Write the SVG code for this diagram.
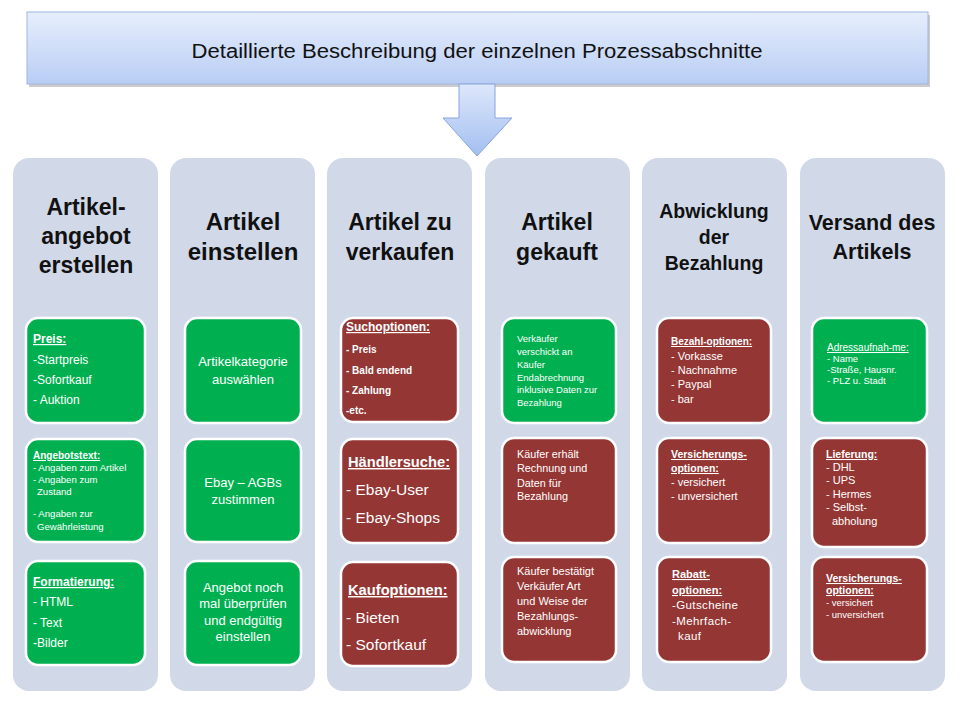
<svg xmlns="http://www.w3.org/2000/svg" width="960" height="720" viewBox="0 0 960 720">
<defs>
<linearGradient id="gTop" x1="0" y1="0" x2="0" y2="1">
<stop offset="0" stop-color="#e6eefc"/><stop offset="1" stop-color="#b9cdf4"/>
</linearGradient>
<linearGradient id="gArrow" x1="0" y1="0" x2="0" y2="1">
<stop offset="0" stop-color="#dde7fb"/><stop offset="1" stop-color="#a3bff0"/>
</linearGradient>
<style>
.col{fill:#d1d9e9;}
.g{fill:#00b050;stroke:#ffffff;stroke-width:2.5;}
.r{fill:#943634;stroke:#ffffff;stroke-width:2.5;}
.t{font-family:"Liberation Sans",Arial,sans-serif;font-weight:bold;fill:#111111;text-anchor:middle;}
.w{font-family:"Liberation Sans",Arial,sans-serif;fill:#ffffff;}
.wc{font-family:"Liberation Sans",Arial,sans-serif;fill:#ffffff;text-anchor:middle;}
.b{font-weight:bold;}
.h{font-weight:bold;text-decoration:underline;}
.u{text-decoration:underline;}
</style>
</defs>
<rect width="960" height="720" fill="#ffffff"/>

<g id="header">
<rect x="29" y="15" width="901" height="72" fill="#9a9a9a" opacity="0.5"/>
<rect x="27" y="12" width="901" height="72" fill="url(#gTop)" stroke="#9fb6e0" stroke-width="1"/>
<text x="477" y="58" font-family="'Liberation Sans',Arial,sans-serif" font-size="20" fill="#111111" text-anchor="middle" textLength="571" lengthAdjust="spacingAndGlyphs">Detaillierte Beschreibung der einzelnen Prozessabschnitte</text>
</g>

<g id="connectors">
<path d="M459,84 L495,84 L495,118 L512,118 L477,156 L443,118 L459,118 Z" fill="url(#gArrow)" stroke="#86a5dc" stroke-width="1"/>
</g>

<g id="col1">
<rect class="col" x="13" y="158" width="145" height="533" rx="16"/>
<text class="t" font-size="23" x="86" y="215">Artikel-</text>
<text class="t" font-size="23" x="86" y="244">angebot</text>
<text class="t" font-size="23" x="86" y="273">erstellen</text>
<g id="c1b1">
<rect class="g" x="26" y="318" width="119" height="105" rx="12"/>
<text class="w" font-size="12" x="33" y="343"><tspan class="h">Preis:</tspan></text>
<text class="w" font-size="12" x="33" y="364">-Startpreis</text>
<text class="w" font-size="12" x="33" y="384">-Sofortkauf</text>
<text class="w" font-size="12" x="33" y="404">- Auktion</text>
</g>
<g id="c1b2">
<rect class="g" x="26" y="439" width="119" height="103" rx="12"/>
<text class="w" font-size="10" x="33" y="459"><tspan class="h">Angebotstext:</tspan></text>
<text class="w" font-size="9.6" x="33" y="471">- Angaben zum Artikel</text>
<text class="w" font-size="9.6" x="33" y="483">- Angaben zum</text>
<text class="w" font-size="9.6" x="37" y="495">Zustand</text>
<text class="w" font-size="9.6" x="33" y="517">- Angaben zur</text>
<text class="w" font-size="9.6" x="37" y="530">Gewährleistung</text>
</g>
<g id="c1b3">
<rect class="g" x="26" y="561" width="119" height="104" rx="12"/>
<text class="w" font-size="12" x="33" y="586"><tspan class="h">Formatierung:</tspan></text>
<text class="w" font-size="12" x="33" y="606">- HTML</text>
<text class="w" font-size="12" x="33" y="627">- Text</text>
<text class="w" font-size="12" x="33" y="647">-Bilder</text>
</g>
</g>

<g id="col2">
<rect class="col" x="170" y="158" width="145" height="533" rx="16"/>
<text class="t" font-size="24" x="243" y="230">Artikel</text>
<text class="t" font-size="24" x="243" y="260">einstellen</text>
<g id="c2b1">
<rect class="g" x="185" y="318" width="116" height="105" rx="12"/>
<text class="wc" font-size="13" x="243" y="366">Artikelkategorie</text>
<text class="wc" font-size="13" x="243" y="384">auswählen</text>
</g>
<g id="c2b2">
<rect class="g" x="185" y="439" width="116" height="103" rx="12"/>
<text class="wc" font-size="13" x="243" y="487">Ebay – AGBs</text>
<text class="wc" font-size="13" x="243" y="504">zustimmen</text>
</g>
<g id="c2b3">
<rect class="g" x="185" y="561" width="116" height="104" rx="12"/>
<text class="wc" font-size="13" x="243" y="592">Angebot noch</text>
<text class="wc" font-size="13" x="243" y="608">mal überprüfen</text>
<text class="wc" font-size="13" x="243" y="625">und endgültig</text>
<text class="wc" font-size="13" x="243" y="641">einstellen</text>
</g>
</g>

<g id="col3">
<rect class="col" x="327" y="158" width="145" height="533" rx="16"/>
<text class="t" font-size="23" x="400" y="230">Artikel zu</text>
<text class="t" font-size="23" x="400" y="260">verkaufen</text>
<g id="c3b1">
<rect class="r" x="341" y="318" width="117" height="104" rx="12"/>
<text class="w" font-size="12" x="346" y="331"><tspan class="h">Suchoptionen:</tspan></text>
<text class="w b" font-size="10" x="346" y="353">- Preis</text>
<text class="w b" font-size="10" x="346" y="374">- Bald endend</text>
<text class="w b" font-size="10" x="346" y="394">- Zahlung</text>
<text class="w b" font-size="10" x="346" y="414">-etc.</text>
</g>
<g id="c3b2">
<rect class="r" x="341" y="439" width="117" height="104" rx="12"/>
<text class="w" font-size="14.7" x="348" y="467"><tspan class="h">Händlersuche:</tspan></text>
<text class="w" font-size="15.5" x="346" y="495">- Ebay-User</text>
<text class="w" font-size="15.5" x="346" y="523">- Ebay-Shops</text>
</g>
<g id="c3b3">
<rect class="r" x="341" y="562" width="117" height="104" rx="12"/>
<text class="w" font-size="14.7" x="348" y="595"><tspan class="h">Kaufoptionen:</tspan></text>
<text class="w" font-size="15.5" x="346" y="623">- Bieten</text>
<text class="w" font-size="15.5" x="346" y="650">- Sofortkauf</text>
</g>
</g>

<g id="col4">
<rect class="col" x="485" y="158" width="145" height="533" rx="16"/>
<text class="t" font-size="23" x="557" y="230">Artikel</text>
<text class="t" font-size="23" x="557" y="260">gekauft</text>
<g id="c4b1">
<rect class="g" x="502" y="318" width="114" height="105" rx="12"/>
<text class="w" font-size="9.5" x="517" y="342">Verkäufer</text>
<text class="w" font-size="9.5" x="517" y="355">verschickt an</text>
<text class="w" font-size="9.5" x="517" y="368">Käufer</text>
<text class="w" font-size="9.5" x="517" y="381">Endabrechnung</text>
<text class="w" font-size="9.5" x="517" y="393">inklusive Daten zur</text>
<text class="w" font-size="9.5" x="517" y="406">Bezahlung</text>
</g>
<g id="c4b2">
<rect class="r" x="502" y="438" width="114" height="105" rx="12"/>
<text class="w" font-size="10.8" x="517" y="458">Käufer erhält</text>
<text class="w" font-size="10.8" x="517" y="472">Rechnung und</text>
<text class="w" font-size="10.8" x="517" y="487">Daten für</text>
<text class="w" font-size="10.8" x="517" y="500">Bezahlung</text>
</g>
<g id="c4b3">
<rect class="r" x="502" y="557" width="114" height="105" rx="12"/>
<text class="w" font-size="11" x="517" y="575">Käufer bestätigt</text>
<text class="w" font-size="11" x="517" y="590">Verkäufer Art</text>
<text class="w" font-size="11" x="517" y="605">und Weise der</text>
<text class="w" font-size="11" x="517" y="620">Bezahlungs-</text>
<text class="w" font-size="11" x="517" y="635">abwicklung</text>
</g>
</g>

<g id="col5">
<rect class="col" x="642" y="158" width="145" height="533" rx="16"/>
<text class="t" font-size="19.5" x="714" y="218">Abwicklung</text>
<text class="t" font-size="19.5" x="714" y="244">der</text>
<text class="t" font-size="19.5" x="714" y="270">Bezahlung</text>
<g id="c5b1">
<rect class="r" x="657" y="318" width="114" height="105" rx="12"/>
<text class="w" font-size="10" x="671" y="345"><tspan class="h">Bezahl-optionen:</tspan></text>
<text class="w" font-size="11" x="671" y="360">- Vorkasse</text>
<text class="w" font-size="11" x="671" y="374">- Nachnahme</text>
<text class="w" font-size="11" x="671" y="388">- Paypal</text>
<text class="w" font-size="11" x="671" y="403">- bar</text>
</g>
<g id="c5b2">
<rect class="r" x="657" y="438" width="114" height="105" rx="12"/>
<text class="w" font-size="10.5" x="671" y="458"><tspan class="h">Versicherungs-</tspan></text>
<text class="w" font-size="10.5" x="671" y="472"><tspan class="h">optionen:</tspan></text>
<text class="w" font-size="11" x="671" y="486">- versichert</text>
<text class="w" font-size="11" x="671" y="500">- unversichert</text>
</g>
<g id="c5b3">
<rect class="r" x="657" y="557" width="114" height="105" rx="12"/>
<text class="w" font-size="11" x="672" y="578"><tspan class="h">Rabatt-</tspan></text>
<text class="w" font-size="11" x="672" y="594"><tspan class="h">optionen:</tspan></text>
<text class="w" font-size="11.5" x="672" y="609" letter-spacing="0.4">-Gutscheine</text>
<text class="w" font-size="11.5" x="672" y="625" letter-spacing="0.4">-Mehrfach-</text>
<text class="w" font-size="11.5" x="678" y="640" letter-spacing="0.4">kauf</text>
</g>
</g>

<g id="col6">
<rect class="col" x="800" y="158" width="145" height="533" rx="16"/>
<text class="t" font-size="21.5" x="872" y="230">Versand des</text>
<text class="t" font-size="21.5" x="872" y="259">Artikels</text>
<g id="c6b1">
<rect class="g" x="812" y="318" width="115" height="105" rx="12"/>
<text class="w u" font-size="10" x="827" y="351">Adressaufnah-me:</text>
<text class="w" font-size="9.5" x="827" y="362">- Name</text>
<text class="w" font-size="9.5" x="827" y="373">-Straße, Hausnr.</text>
<text class="w" font-size="9.5" x="827" y="384">- PLZ u. Stadt</text>
</g>
<g id="c6b2">
<rect class="r" x="812" y="438" width="115" height="109" rx="12"/>
<text class="w" font-size="10.5" x="826" y="458"><tspan class="h">Lieferung:</tspan></text>
<text class="w" font-size="11" x="826" y="471">- DHL</text>
<text class="w" font-size="11" x="826" y="484">- UPS</text>
<text class="w" font-size="11" x="826" y="498">- Hermes</text>
<text class="w" font-size="11" x="826" y="511">- Selbst-</text>
<text class="w" font-size="11" x="832" y="525">abholung</text>
</g>
<g id="c6b3">
<rect class="r" x="812" y="557" width="115" height="105" rx="12"/>
<text class="w" font-size="10.5" x="826" y="582"><tspan class="h">Versicherungs-</tspan></text>
<text class="w" font-size="10.5" x="826" y="594"><tspan class="h">optionen:</tspan></text>
<text class="w" font-size="9.5" x="826" y="606">- versichert</text>
<text class="w" font-size="9.5" x="826" y="618">- unversichert</text>
</g>
</g>
</svg>
